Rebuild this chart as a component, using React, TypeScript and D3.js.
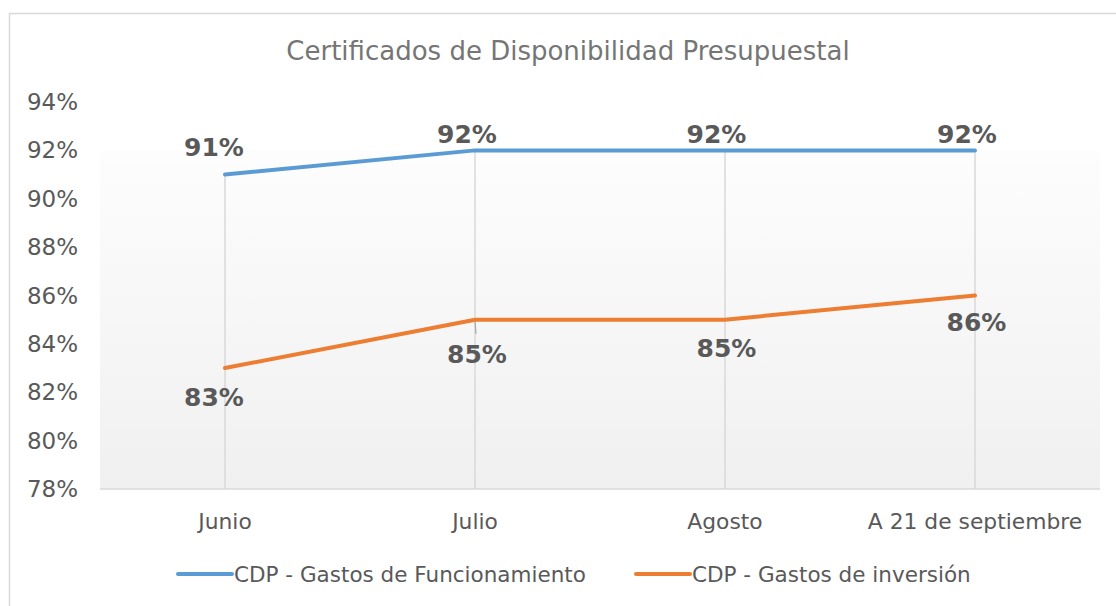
import React from "react";
import * as d3 from "d3";

const categories = ["Junio", "Julio", "Agosto", "A 21 de septiembre"];
const funcionamiento = [0.91, 0.92, 0.92, 0.92];
const inversion = [0.83, 0.85, 0.85, 0.86];
const yTicks = [0.78, 0.8, 0.82, 0.84, 0.86, 0.88, 0.9, 0.92, 0.94];
const seriesNames = ["CDP - Gastos de Funcionamiento", "CDP - Gastos de inversión"];
const title = "Certificados de Disponibilidad Presupuestal";

const W = 1116;
const H = 606;
const FONT = "'DejaVu Sans', Verdana, sans-serif";
const TXT = "#595959";
const BLUE = "#5b9bd5";
const ORANGE = "#ed7d31";
const GRID = "#d9d9d9";

// label placement offsets (px) relative to each point, as in the source chart
const blueLabelOffset = [[-11, -27], [-8, -16], [-8.5, -16], [-8, -16]];
const orangeLabelOffset = [[-11, 29], [2, 35], [1.5, 29], [1.5, 27]];

export default function App() {
  const left = 100, right = 1100, top = 102, bottom = 489;
  const x = d3.scaleBand<string>().domain(categories).range([left, right]);
  const cx = (c: string) => (x(c) as number) + x.bandwidth() / 2;
  const y = d3.scaleLinear().domain([0.78, 0.94]).range([bottom, top]);
  const fmt = d3.format(".0%");
  const line = d3
    .line<number>()
    .x((_, i) => cx(categories[i]))
    .y((d) => y(d));

  const series = [
    { name: seriesNames[0], values: funcionamiento, color: BLUE, off: blueLabelOffset },
    { name: seriesNames[1], values: inversion, color: ORANGE, off: orangeLabelOffset },
  ];
  const bgTop = y(0.92);

  return (
    <svg
      width={W}
      height={H}
      style={{ position: "absolute", left: 0, top: 0, background: "#fff" }}
      fontFamily={FONT}
    >
      <defs>
        <linearGradient id="bg" x1="0" y1="0" x2="0" y2="1">
          <stop offset="0" stopColor="#fdfdfd" />
          <stop offset="1" stopColor="#f0f0f0" />
        </linearGradient>
      </defs>
      <rect x={9.5} y={13.5} width={1200} height={700} fill="#fff" stroke={GRID} strokeWidth={1.5} />
      <text x={568} y={52} textAnchor="middle" dominantBaseline="middle" fontSize={26} fill="#757575">
        {title}
      </text>
      <rect x={left} y={bgTop} width={right - left} height={bottom - bgTop} fill="url(#bg)" />
      {categories.map((c, i) => (
        <line
          key={c}
          x1={cx(c)}
          x2={cx(c)}
          y1={y(Math.max(funcionamiento[i], inversion[i]))}
          y2={bottom}
          stroke={GRID}
          strokeWidth={1.5}
        />
      ))}
      <line x1={left} x2={right} y1={bottom} y2={bottom} stroke={GRID} strokeWidth={1.5} />
      {yTicks.map((t) => (
        <text key={t} x={78} y={y(t)} textAnchor="end" dominantBaseline="central" fontSize={23} fill={TXT}>
          {fmt(t)}
        </text>
      ))}
      {categories.map((c) => (
        <text key={c} x={cx(c)} y={521} textAnchor="middle" dominantBaseline="central" fontSize={21.8} fill={TXT}>
          {c}
        </text>
      ))}
      {series.map((s) => (
        <path
          key={s.name}
          d={line(s.values) as string}
          fill="none"
          stroke={s.color}
          strokeWidth={4}
          strokeLinecap="round"
          strokeLinejoin="round"
        />
      ))}
      <line
        x1={cx(categories[1])}
        x2={cx(categories[1]) + 1}
        y1={y(inversion[1]) + 2}
        y2={y(inversion[1]) + 14}
        stroke="#a6a6a6"
        strokeWidth={1.2}
      />
      {series.map((s) =>
        s.values.map((v, i) => (
          <text
            key={s.name + i}
            x={cx(categories[i]) + s.off[i][0]}
            y={y(v) + s.off[i][1]}
            textAnchor="middle"
            dominantBaseline="central"
            fontSize={25}
            fontWeight="bold"
            fill={TXT}
          >
            {fmt(v)}
          </text>
        ))
      )}
      {series.map((s, i) => {
        const lx = i === 0 ? 178 : 636;
        return (
          <g key={s.name}>
            <line x1={lx} x2={lx + 54} y1={574} y2={574} stroke={s.color} strokeWidth={4} strokeLinecap="round" />
            <text x={lx + 56} y={574} dominantBaseline="central" fontSize={21.5} fill={TXT}>
              {s.name}
            </text>
          </g>
        );
      })}
    </svg>
  );
}
